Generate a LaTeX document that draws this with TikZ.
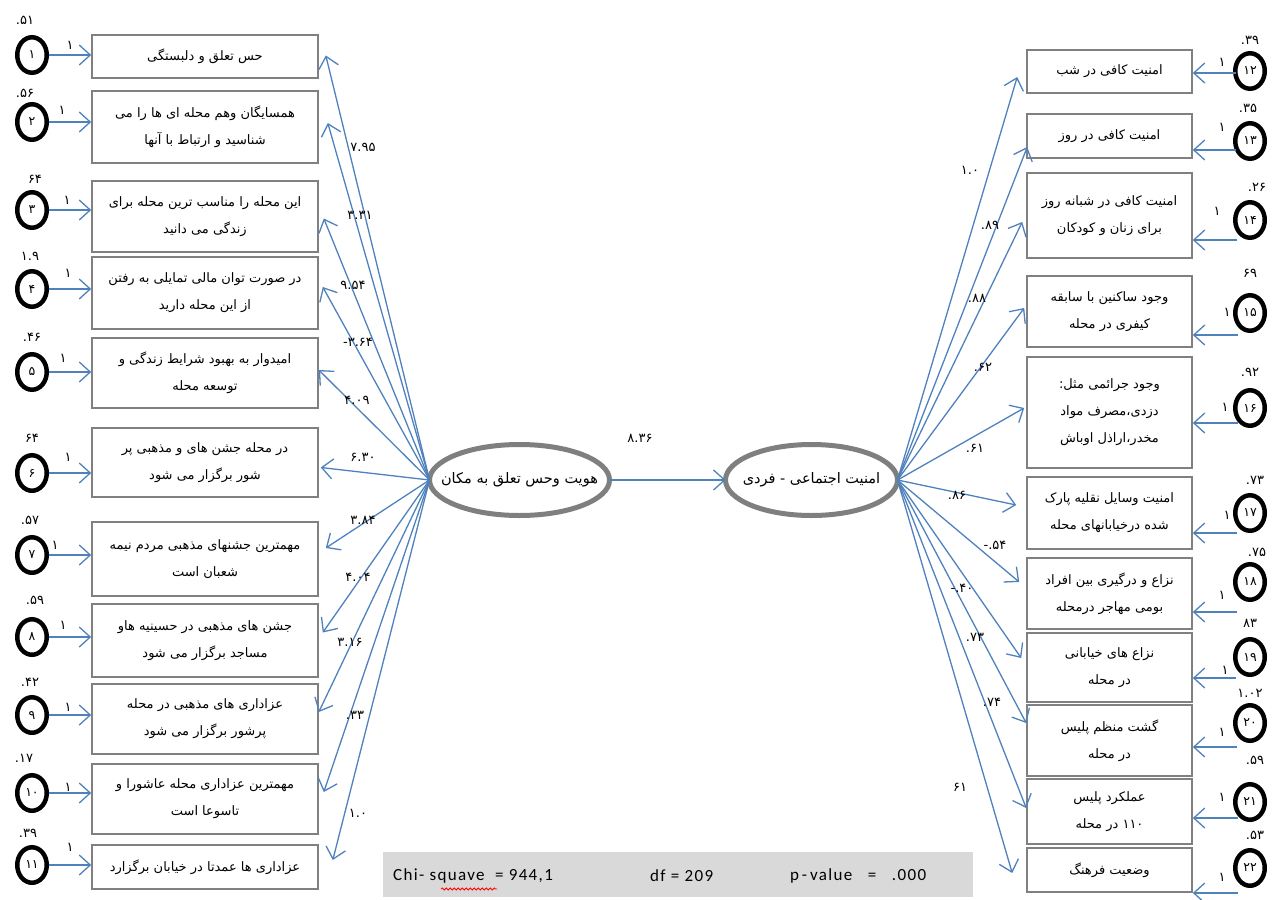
\documentclass[tikz,border=0pt]{standalone}
\usepackage{fontspec}
\usetikzlibrary{arrows.meta,shapes.geometric,decorations.pathmorphing}
\TeXXeTstate=1
\newfontfamily\fa[Script=Arabic]{DejaVu Sans}
\newfontfamily\calfont[LetterSpace=8]{Carlito}
\newcommand\rl[1]{\beginR #1\endR}
\definecolor{arrblue}{HTML}{4F81BD}
\definecolor{boxgray}{HTML}{808080}
\definecolor{ellgray}{HTML}{7F7F7F}
\definecolor{chigray}{HTML}{D9D9D9}
\begin{document}
\begin{tikzpicture}[x=1pt,y=-1pt,
  ind/.style={draw=boxgray, line width=1.6, fill=white, inner sep=2, align=center, font=\fa\fontsize{13}{27}\selectfont},
  lbox/.style={ind, minimum width=226},
  rbox/.style={ind, minimum width=165},
  errc/.style={ellipse, draw=black, line width=4.5, minimum width=29.5, minimum height=35.5, inner sep=0, font=\fa\fontsize{12.5}{14}\selectfont},
  lat/.style={ellipse, draw=ellgray, line width=5, minimum height=71, inner sep=0, outer sep=0},
  lattext/.style={inner sep=0, font=\fa\fontsize{14.5}{16}\selectfont},
  arr/.style={draw=arrblue, line width=1.3, -{Straight Barb[length=11,width=20]}},
  num/.style={font=\fa\fontsize{13}{15}\selectfont, inner sep=0},
  chitext/.style={anchor=west, inner sep=0, font=\calfont\fontsize{17}{19}\selectfont},
]
\useasboundingbox (0,0) rectangle (1273,899);

% latent variables
\node[lat, minimum width=180] (L) at (519.5,480) {};
\node[lattext] (Lt) at (L.center) {\rl{هویت وحس تعلق به مکان}};
\node[lat, minimum width=172] (R) at (811.5,480) {};
\node[lattext] (Rt) at (R.center) {\rl{امنیت اجتماعی - فردی}};
\draw[arr] (L.east) -- (R.west);
\node[num] (kLR) at (640,438) {۸.۳۶};

% left indicators
\node[lbox, minimum height=43] (b1) at (205,56.5) {\rl{حس تعلق و دلبستگی}};
\node[lbox, minimum height=72] (b2) at (205,127) {\rl{همسایگان وهم محله ای ها را می}\\\rl{شناسید و ارتباط با آنها}};
\node[lbox, minimum height=71] (b3) at (205,216.5) {\rl{این محله را مناسب ترین محله برای}\\\rl{زندگی می دانید}};
\node[lbox, minimum height=72] (b4) at (205,293) {\rl{در صورت توان مالی تمایلی به رفتن}\\\rl{از این محله دارید}};
\node[lbox, minimum height=70] (b5) at (205,373) {\rl{امیدوار به بهبود شرایط زندگی و}\\\rl{توسعه محله}};
\node[lbox, minimum height=69] (b6) at (205,462.5) {\rl{در محله جشن های و مذهبی پر}\\\rl{شور برگزار می شود}};
\node[lbox, minimum height=74] (b7) at (205,559) {\rl{مهمترین جشنهای مذهبی مردم نیمه}\\\rl{شعبان است}};
\node[lbox, minimum height=73] (b8) at (205,640.5) {\rl{جشن های مذهبی در حسینیه هاو}\\\rl{مساجد برگزار می شود}};
\node[lbox, minimum height=70] (b9) at (205,719) {\rl{عزاداری های مذهبی در محله}\\\rl{پرشور برگزار می شود}};
\node[lbox, minimum height=70] (b10) at (205,799) {\rl{مهمترین عزاداری محله عاشورا و}\\\rl{تاسوعا است}};
\node[lbox, minimum height=44] (b11) at (205,867) {\rl{عزاداری ها عمدتا در خیابان برگزارد}};

% left error terms
\node[errc] (c1) at (32,55) {۱};
\node[errc] (c2) at (32,122) {۲};
\node[errc] (c3) at (32,210) {۳};
\node[errc] (c4) at (32,289) {۴};
\node[errc] (c5) at (32,372) {۵};
\node[errc] (c6) at (32,473) {۶};
\node[errc] (c7) at (32,555) {۷};
\node[errc] (c8) at (32,637) {۸};
\node[errc] (c9) at (32,715) {۹};
\node[errc] (c10) at (32,793) {۱۰};
\node[errc] (c11) at (32,865) {۱۱};
\foreach \i in {1,...,11} {\draw[arr] (c\i.east) -- (c\i.east -| b\i.west);}

% left variances
\node[num] (v1) at (25,20) {۵۱.};
\node[num] (v2) at (25,93) {۵۶.};
\node[num] (v3) at (35,179) {۶۴};
\node[num] (v4) at (30,256) {۱.۹};
\node[num] (v5) at (32,337) {۴۶.};
\node[num] (v6) at (32,438) {۶۴};
\node[num] (v7) at (30,520) {۵۷.};
\node[num] (v8) at (35,600) {۵۹.};
\node[num] (v9) at (30,682) {۴۲.};
\node[num] (v10) at (24,758) {۱۷.};
\node[num] (v11) at (28,833) {۳۹.};

% left "1" labels
\node[num] (o1) at (70,45) {۱};
\node[num] (o2) at (62,110) {۱};
\node[num] (o3) at (67,200) {۱};
\node[num] (o4) at (68,273) {۱};
\node[num] (o5) at (63,358) {۱};
\node[num] (o6) at (68,457) {۱};
\node[num] (o7) at (55,545) {۱};
\node[num] (o8) at (63,625) {۱};
\node[num] (o9) at (68,707) {۱};
\node[num] (o10) at (68,787) {۱};
\node[num] (o11) at (70,847) {۱};

% left loadings
\draw[arr] (L.west) -- ([shift={(7,-1)}]b1.east);
\draw[arr] (L.west) -- ([shift={(9,-4)}]b2.east);
\draw[arr] (L.west) -- ([shift={(5,2)}]b3.east);
\draw[arr] (L.west) -- ([shift={(4,-6)}]b4.east);
\draw[arr] (L.west) -- ([shift={(0,-3)}]b5.east);
\draw[arr] (L.west) -- ([shift={(2,5)}]b6.east);
\draw[arr] (L.west) -- ([shift={(7,-11)}]b7.east);
\draw[arr] (L.west) -- ([shift={(4,-8)}]b8.east);
\draw[arr] (L.west) -- ([shift={(0,-7)}]b9.east);
\draw[arr] (L.west) -- ([shift={(5,-7)}]b10.east);
\draw[arr] (L.west) -- ([shift={(14,-7)}]b11.east);

\node[num] (k1) at (363,147) {۷.۹۵};
\node[num] (k2) at (360,215) {۳.۳۱};
\node[num] (k3) at (353,285) {۹.۵۴};
\node[num] (k4) at (358,342) {۳.۶۴-};
\node[num] (k5) at (357,400) {۴.۰۹};
\node[num] (k6) at (363,457) {۶.۳۰};
\node[num] (k7) at (363,520) {۳.۸۴};
\node[num] (k8) at (358,577) {۴.۰۴};
\node[num] (k9) at (350,642) {۳.۱۶};
\node[num] (k10) at (355,715) {۳۳.};
\node[num] (k11) at (358,813) {۱.۰};

% right indicators
\node[rbox, minimum height=43] (b12) at (1109.5,71.5) {\rl{امنیت کافی در شب}};
\node[rbox, minimum height=44] (b13) at (1109.5,136) {\rl{امنیت کافی در روز}};
\node[rbox, minimum height=85] (b14) at (1109.5,215.5) {\rl{امنیت کافی در شبانه روز}\\\rl{برای زنان و کودکان}};
\node[rbox, minimum height=71] (b15) at (1109.5,311.5) {\rl{وجود ساکنین با سابقه}\\\rl{کیفری در محله}};
\node[rbox, minimum height=111] (b16) at (1109.5,412.5) {\rl{وجود جرائمی مثل:}\\\rl{دزدی،مصرف مواد}\\\rl{مخدر،اراذل اوباش}};
\node[rbox, minimum height=72] (b17) at (1109.5,513) {\rl{امنیت وسایل نقلیه پارک}\\\rl{شده درخیابانهای محله}};
\node[rbox, minimum height=71] (b18) at (1109.5,593.5) {\rl{نزاع و درگیری بین افراد}\\\rl{بومی مهاجر درمحله}};
\node[rbox, minimum height=69] (b19) at (1109.5,667.5) {\rl{نزاع های خیابانی}\\\rl{در محله}};
\node[rbox, minimum height=71] (b20) at (1109.5,740.5) {\rl{گشت منظم پلیس}\\\rl{در محله}};
\node[rbox, minimum height=65] (b21) at (1109.5,811.5) {\rl{عملکرد پلیس}\\\rl{۱۱۰ در محله}};
\node[rbox, minimum height=44] (b22) at (1109.5,870) {\rl{وضعیت فرهنگ}};

% right error terms
\node[errc] (c12) at (1250,71) {۱۲};
\node[errc] (c13) at (1250,141) {۱۳};
\node[errc] (c14) at (1250,220) {۱۴};
\node[errc] (c15) at (1250,313) {۱۵};
\node[errc] (c16) at (1250,408) {۱۶};
\node[errc] (c17) at (1250,513) {۱۷};
\node[errc] (c18) at (1250,582) {۱۸};
\node[errc] (c19) at (1250,657) {۱۹};
\node[errc] (c20) at (1250,723) {۲۰};
\node[errc] (c21) at (1250,802) {۲۱};
\node[errc] (c22) at (1250,868) {۲۲};

\coordinate (e12) at (1236,73);
\coordinate (e13) at (1236,150);
\coordinate (e14) at (1237,240);
\coordinate (e15) at (1238,335);
\coordinate (e16) at (1238,423);
\coordinate (e17) at (1237,533);
\coordinate (e18) at (1237,612);
\coordinate (e19) at (1236,678);
\coordinate (e20) at (1237,747);
\coordinate (e21) at (1238,818);
\coordinate (e22) at (1238,893);
\foreach \i in {12,...,22} {\draw[arr] (e\i) -- (e\i -| b\i.east);}

% right variances
\node[num] (v12) at (1250,40) {۳۹.};
\node[num] (v13) at (1248,108) {۳۵.};
\node[num] (v14) at (1257,187) {۲۶.};
\node[num] (v15) at (1250,273) {۶۹};
\node[num] (v16) at (1250,372) {۹۲.};
\node[num] (v17) at (1255,480) {۷۳.};
\node[num] (v18) at (1257,552) {۷۵.};
\node[num] (v19) at (1250,623) {۸۳};
\node[num] (v20) at (1250,693) {۱.۰۲};
\node[num] (v21) at (1255,760) {۵۹.};
\node[num] (v22) at (1255,835) {۵۳.};

% right "1" labels
\node[num] (o12) at (1222,62) {۱};
\node[num] (o13) at (1222,127) {۱};
\node[num] (o14) at (1217,211) {۱};
\node[num] (o15) at (1227,312) {۱};
\node[num] (o16) at (1225,407) {۱};
\node[num] (o17) at (1227,515) {۱};
\node[num] (o18) at (1222,595) {۱};
\node[num] (o19) at (1225,670) {۱};
\node[num] (o20) at (1222,732) {۱};
\node[num] (o21) at (1222,797) {۱};
\node[num] (o22) at (1222,877) {۱};

% right loadings
\draw[arr] (R.east) -- ([shift={(-9,5.5)}]b12.west);
\draw[arr] (R.east) -- ([shift={(1,11)}]b13.west);
\draw[arr] (R.east) -- ([shift={(-4,6.5)}]b14.west);
\draw[arr] (R.east) -- ([shift={(-2,-3.5)}]b15.west);
\draw[arr] (R.east) -- ([shift={(-2,-4.5)}]b16.west);
\draw[arr] (R.east) -- ([shift={(-10,-8)}]b17.west);
\draw[arr] (R.east) -- ([shift={(-7,-11.5)}]b18.west);
\draw[arr] (R.east) -- ([shift={(-5,-9.5)}]b19.west);
\draw[arr] (R.east) -- ([shift={(0,-17.5)}]b20.west);
\draw[arr] (R.east) -- ([shift={(0,-3.5)}]b21.west);
\draw[arr] (R.east) -- ([shift={(-14,3)}]b22.west);

\node[num] (k12) at (970,170) {۱.۰};
\node[num] (k13) at (990,225) {۸۹.};
\node[num] (k14) at (977,298) {۸۸.};
\node[num] (k15) at (983,367) {۶۲.};
\node[num] (k16) at (975,448) {۶۱.};
\node[num] (k17) at (957,495) {۸۶.};
\node[num] (k18) at (995,545) {۵۴.-};
\node[num] (k19) at (962,588) {۴۰.-};
\node[num] (k20) at (975,637) {۷۳.};
\node[num] (k21) at (992,702) {۷۴.};
\node[num] (k22) at (960,787) {۶۱};

% fit statistics
\node[fill=chigray, minimum width=590, minimum height=45, inner sep=0] (chi) at (678,874.5) {};
\node[chitext] (chi1) at (393,876) {Chi-\ squave\ \ =\ 944,1};
\node[chitext] (chi2) at (650,876) {df = 209};
\node[chitext] (chi3) at (790,876) {p\,-\,value\ \ \ =\ \ \ .000};
\draw[red, line width=0.8, decorate, decoration={snake, amplitude=1, segment length=4}] (441,889) -- (497,889);
\end{tikzpicture}
\end{document}
